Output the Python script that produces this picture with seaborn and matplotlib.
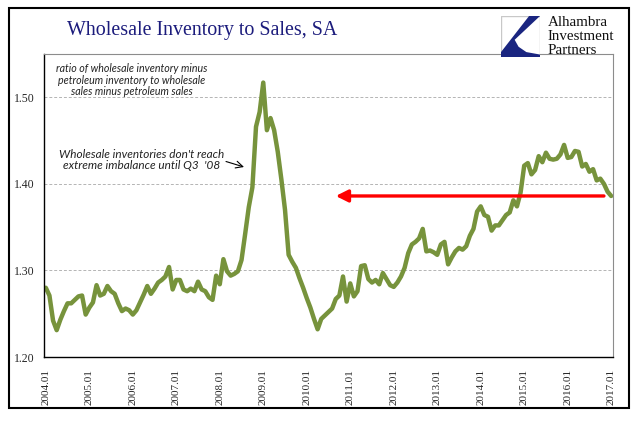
import numpy as np
import pandas as pd
import seaborn as sns
import matplotlib.pyplot as plt
from matplotlib.patches import Rectangle, Polygon

# ---------------------------------------------
# Veri: aylik oran (toptan stok / satis, petrol haric)
# ---------------------------------------------
y2004 = [1.280, 1.271, 1.242, 1.231, 1.243, 1.253, 1.262, 1.262, 1.266, 1.270, 1.271, 1.249]
y2005 = [1.257, 1.263, 1.283, 1.271, 1.273, 1.282, 1.276, 1.273, 1.262, 1.253, 1.256, 1.254]
y2006 = [1.249, 1.254, 1.263, 1.272, 1.282, 1.273, 1.279, 1.286, 1.289, 1.293, 1.304, 1.278]
y2007 = [1.289, 1.289, 1.278, 1.276, 1.279, 1.276, 1.287, 1.278, 1.276, 1.269, 1.266, 1.294]
y2008 = [1.284, 1.313, 1.299, 1.294, 1.296, 1.299, 1.312, 1.342, 1.373, 1.396, 1.466, 1.483]
y2009 = [1.517, 1.462, 1.476, 1.462, 1.437, 1.405, 1.370, 1.318, 1.310, 1.303, 1.291, 1.280]
y2010 = [1.268, 1.257, 1.244, 1.232, 1.244, 1.248, 1.252, 1.256, 1.267, 1.271, 1.293, 1.264]
y2011 = [1.285, 1.270, 1.276, 1.305, 1.306, 1.290, 1.286, 1.289, 1.284, 1.297, 1.290, 1.283]
y2012 = [1.281, 1.286, 1.293, 1.303, 1.320, 1.330, 1.333, 1.337, 1.348, 1.322, 1.323, 1.321]
y2013 = [1.318, 1.330, 1.333, 1.307, 1.315, 1.322, 1.326, 1.324, 1.328, 1.340, 1.348, 1.368]
y2014 = [1.374, 1.364, 1.362, 1.346, 1.352, 1.352, 1.358, 1.364, 1.367, 1.381, 1.374, 1.390]
y2015 = [1.421, 1.424, 1.411, 1.416, 1.432, 1.425, 1.436, 1.429, 1.428, 1.429, 1.434, 1.445]
y2016 = [1.430, 1.431, 1.438, 1.437, 1.420, 1.423, 1.414, 1.417, 1.404, 1.406, 1.400, 1.391]
y2017 = [1.386]

ratio = y2004 + y2005 + y2006 + y2007 + y2008 + y2009 + y2010 + y2011 + y2012 + y2013 + y2014 + y2015 + y2016 + y2017
months = [f"{y}.{m:02d}" for y in range(2004, 2018) for m in range(1, 13)][:len(ratio)]

year_labels = [f"{y}.01" for y in range(2004, 2018)]
y_ticks = [1.20, 1.30, 1.40, 1.50]

# kirmizi ok: seviye ve baslangic/bitis aylari
arrow_level = 1.386
arrow_from = "2016.11"
arrow_to = "2010.09"

df = pd.DataFrame({"ay": months, "oran": ratio})
df["i"] = np.arange(len(df))

sns.set_style("white")
plt.rcParams["font.family"] = ["Liberation Serif", "DejaVu Serif"]

W, H = 641, 421
fig = plt.figure(figsize=(W / 100, H / 100), dpi=100)

def fx(px):
    return px / W

def fy(py):
    return 1 - py / H

ax = fig.add_axes([fx(44), fy(357), fx(613) - fx(44), fy(54) - fy(357)])

sns.lineplot(data=df, x="i", y="oran", ax=ax, color="#77933c", linewidth=3.2)

ax.set_xlim(-0.5, len(df) - 0.5)
ax.set_ylim(1.20, 1.55)
ax.set_xlabel("")
ax.set_ylabel("")

# eksenler
ax.set_yticks(y_ticks)
ax.set_yticklabels([f"{v:.2f}" for v in y_ticks], fontsize=8.5)
ax.set_xticks([months.index(l) for l in year_labels])
ax.set_xticklabels(year_labels, rotation=90, fontsize=8)
ax.set_xticks(np.arange(-0.5, len(df), 1), minor=True)
ax.tick_params(axis="x", which="major", length=0, pad=8.5)
ax.tick_params(axis="x", which="minor", length=3, width=0.7, color="black", direction="out")
ax.tick_params(axis="y", which="major", length=3, width=0.8, color="black", direction="out", pad=4)

ax.yaxis.grid(True, linestyle=(0, (3, 2)), color="#b4b4b4", linewidth=0.7)
ax.set_axisbelow(True)

for s in ["top", "right"]:
    ax.spines[s].set_color("#8c8c8c")
    ax.spines[s].set_linewidth(0.8)
for s in ["left", "bottom"]:
    ax.spines[s].set_color("black")
    ax.spines[s].set_linewidth(1.0)

# kirmizi ok
ax.annotate("", xy=(months.index(arrow_to), arrow_level), xytext=(months.index(arrow_from), arrow_level),
            arrowprops=dict(arrowstyle="-|>,head_length=0.6,head_width=0.3", color="#ff0000",
                            lw=2.4, mutation_scale=12, shrinkA=0, shrinkB=0))

# aciklamalar
note_font = ["Lato", "DejaVu Sans"]
fig.text(fx(132), fy(80), "ratio of wholesale inventory minus\npetroleum inventory to wholesale\nsales minus petroleum sales",
         ha="center", va="center", fontsize=7.7, style="italic", family=note_font, color="#222222",
         linespacing=1.02)
fig.text(fx(142), fy(160), "Wholesale inventories don't reach\nextreme imbalance until Q3  '08",
         ha="center", va="center", fontsize=8.5, style="italic", family=note_font, color="#222222",
         linespacing=1.08)
ax.annotate("", xy=(fx(244), fy(167)), xytext=(fx(226), fy(161.5)),
            xycoords="figure fraction", textcoords="figure fraction",
            arrowprops=dict(arrowstyle="->,head_length=0.5,head_width=0.25", color="black", lw=0.8,
                            shrinkA=0, shrinkB=0))

# baslik
fig.text(fx(67), fy(30), "Wholesale Inventory to Sales, SA", ha="left", va="center",
         fontsize=14.4, color="#1c1c7c", family=["Liberation Serif", "DejaVu Serif"])

# logo
lax = fig.add_axes([fx(501), fy(57), fx(540) - fx(501), fy(16) - fy(57)])
lax.set_xlim(0, 1)
lax.set_ylim(0, 1)
lax.axis("off")
lax.add_patch(Rectangle((0, 0), 1, 1, facecolor="white", edgecolor="#c8c8c8", lw=1.0))
lax.add_patch(Polygon([(0.72, 1.0), (1.0, 1.0), (0.35, 0.42), (0.45, 0.25), (0.65, 0.12),
                       (1.0, 0.06), (1.0, 0.0), (0.0, 0.0), (0.0, 0.12)],
                      closed=True, facecolor="#1a2580", edgecolor="none"))
for txt, py in [("Alhambra", 23), ("Investment", 37), ("Partners", 51)]:
    fig.text(fx(548), fy(py), txt, ha="left", va="center", fontsize=10.8, color="#111111",
             family=["Liberation Serif", "DejaVu Serif"])

# dis cerceve
fig.patches.append(Rectangle((fx(9), fy(408)), fx(629) - fx(9), fy(8) - fy(408),
                             transform=fig.transFigure, fill=False, edgecolor="black", lw=1.5))

fig.savefig("out.png", dpi=100, facecolor="white")
